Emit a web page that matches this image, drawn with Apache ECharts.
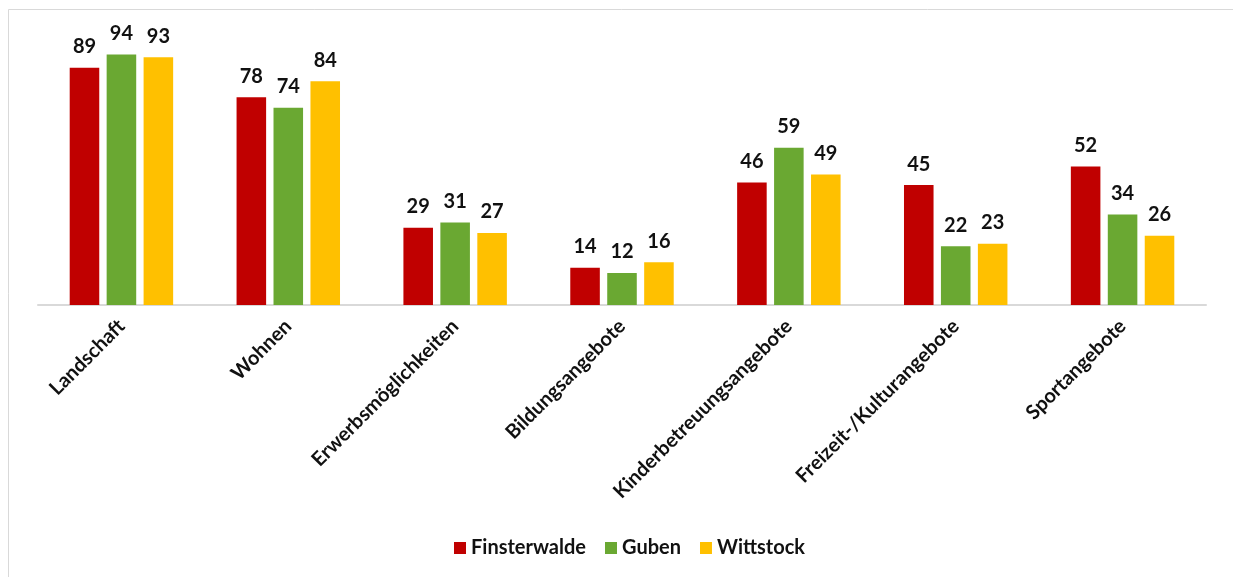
<!DOCTYPE html>
<html>
<head>
<meta charset="utf-8">
<script src="https://cdn.jsdelivr.net/npm/echarts@6/dist/echarts.min.js"></script>
<style>
  html, body { margin: 0; padding: 0; background: #fff; }
  #chart { width: 1233px; height: 577px; }
</style>
</head>
<body>
<div id="chart"></div>
<script>
const categories = ['Landschaft', 'Wohnen', 'Erwerbsmöglichkeiten', 'Bildungsangebote',
  'Kinderbetreuungsangebote', 'Freizeit-/Kulturangebote', 'Sportangebote'];
const finsterwalde = [89, 78, 29, 14, 46, 45, 52];
const guben = [94, 74, 31, 12, 59, 22, 34];
const wittstock = [93, 84, 27, 16, 49, 23, 26];

const seriesNames = ['Finsterwalde', 'Guben', 'Wittstock'];
const seriesColors = ['#c00000', '#6aa832', '#ffc000'];
const seriesData = [finsterwalde, guben, wittstock];

const font = 'Lato, "Open Sans", sans-serif';

const chart = echarts.init(document.getElementById('chart'), null, { renderer: 'canvas' });
chart.setOption({
  backgroundColor: '#fff',
  animation: false,
  textStyle: { fontFamily: font },
  graphic: [{
    type: 'rect',
    shape: { x: 8.5, y: 9.5, width: 1300, height: 700 },
    style: { fill: 'none', stroke: '#d9d9d9', lineWidth: 1 },
    silent: true
  }],
  grid: { left: 38, right: 27, top: 38.5, height: 266.5 },
  legend: {
    bottom: 14,
    left: 449,
    itemWidth: 12,
    itemHeight: 12,
    itemGap: 19,
    icon: 'rect',
    textStyle: { fontFamily: font, fontSize: 20, fontWeight: 'bold', color: '#111' },
    data: seriesNames
  },
  xAxis: {
    type: 'category',
    data: categories,
    axisLine: { lineStyle: { color: '#d9d9d9', width: 2 } },
    axisTick: { show: false },
    axisLabel: {
      rotate: 45,
      interval: 0,
      margin: 18,
      fontFamily: font,
      fontSize: 20,
      fontWeight: 'bold',
      color: '#111'
    }
  },
  yAxis: {
    type: 'value',
    min: 0,
    max: 100,
    show: false,
    splitLine: { show: false }
  },
  series: seriesData.map((d, i) => ({
    name: seriesNames[i],
    type: 'bar',
    data: d,
    barGap: '25%',
    barCategoryGap: '38%',
    itemStyle: { color: seriesColors[i] },
    label: {
      show: true,
      position: 'top',
      distance: 11,
      fontFamily: font,
      fontSize: 20,
      fontWeight: 'bold',
      color: '#111'
    }
  }))
});
</script>
</body>
</html>
